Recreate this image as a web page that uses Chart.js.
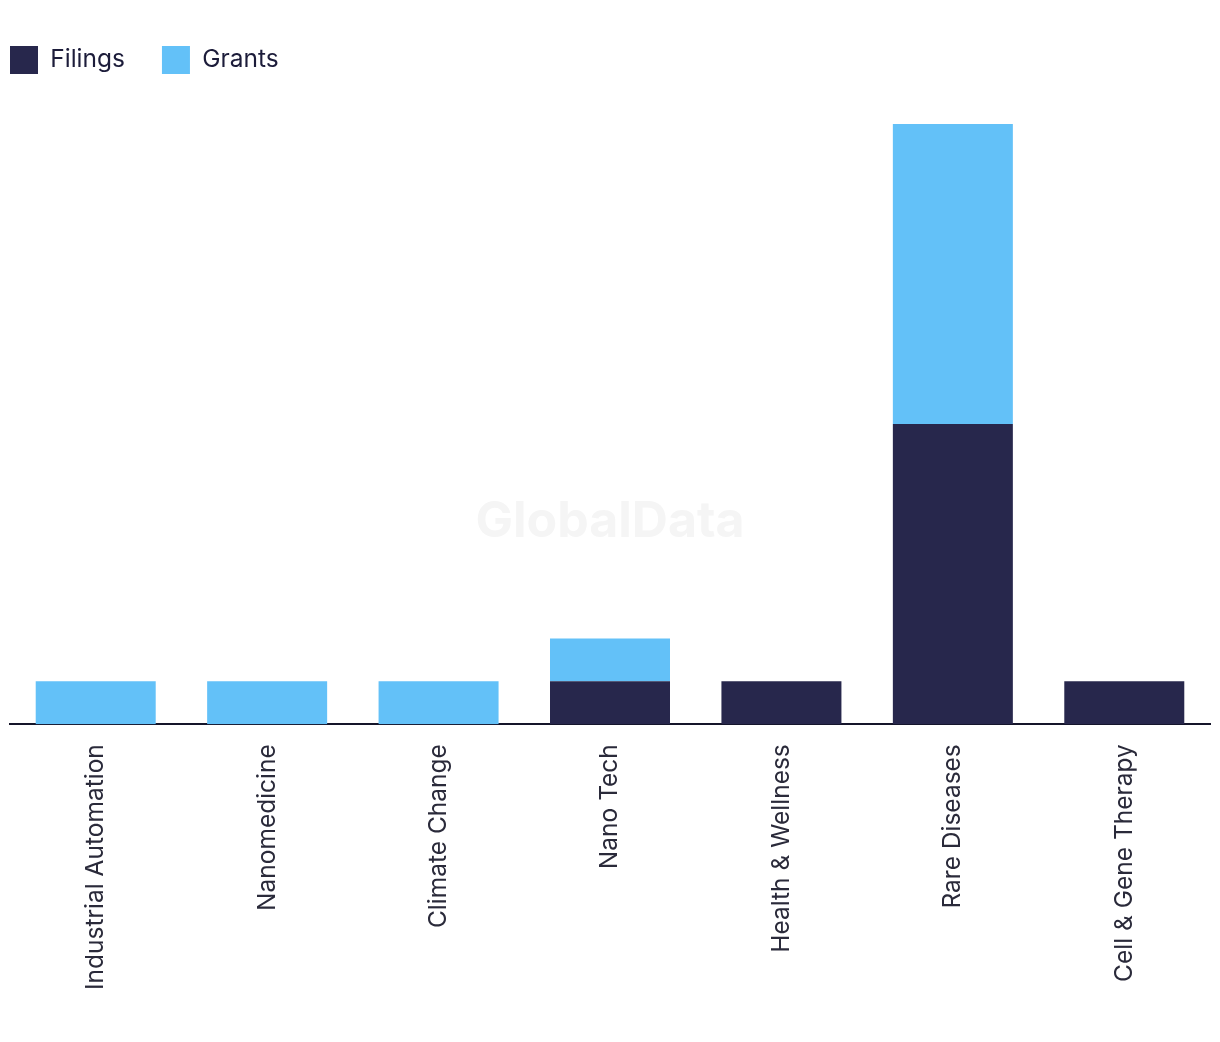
<!DOCTYPE html>
<html>
<head>
<meta charset="utf-8">
<script src="https://cdn.jsdelivr.net/npm/chart.js@4"></script>
<style>
  html, body { margin:0; padding:0; background:#fff; }
  #wrap { width:1220px; height:1042px; position:relative; }
</style>
</head>
<body>
<div id="wrap"><canvas id="chart"></canvas></div>
<script>
// ─── data ───────────────────────────────────────────────────────────────────
const categories = ['Industrial Automation','Nanomedicine','Climate Change','Nano Tech','Health & Wellness','Rare Diseases','Cell & Gene Therapy'];
const filings = [0, 0, 0, 1, 1, 7, 1];
const grants  = [1, 1, 1, 1, 0, 7, 0];

const NAVY = '#27274c';
const SKY  = '#63c1f8';
const FONT = 'Inter, "Liberation Sans", sans-serif';
const LEG_PAD = 37;

// faint brand mark behind the bars
const watermark = {
  id: 'watermark',
  beforeDatasetsDraw(chart) {
    const { ctx } = chart;
    ctx.save();
    ctx.font = 'bold 50px ' + FONT;
    ctx.fillStyle = '#f5f5f5';
    ctx.textAlign = 'center';
    ctx.textBaseline = 'middle';
    ctx.fillText('GlobalData', 610, 522);
    ctx.restore();
  }
};

// pull the legend flush with the left edge (its padding also spaces the items)
const legendShift = {
  id: 'legendShift',
  afterLayout(chart) { chart.legend.left -= LEG_PAD; }
};

new Chart(document.getElementById('chart'), {
  type: 'bar',
  data: {
    labels: categories,
    datasets: [
      { label:'Filings', data:filings, backgroundColor:NAVY },
      { label:'Grants',  data:grants,  backgroundColor:SKY }
    ]
  },
  options: {
    responsive:true, maintainAspectRatio:false, animation:false,
    layout:{ padding:{ left:10, right:10, top:9, bottom:32 } },
    datasets:{ bar:{ categoryPercentage:0.7, barPercentage:1.0 } },
    plugins:{
      legend:{
        position:'top', align:'start',
        labels:{ color:'#1c1c3a', font:{ family:FONT, size:24.5 }, boxWidth:28, boxHeight:28, padding:LEG_PAD }
      },
      tooltip:{ enabled:false }
    },
    scales:{
      x:{
        stacked:true,
        grid:{ display:false, drawTicks:false },
        border:{ display:true, color:'#15152a', width:2 },
        ticks:{ color:'#2a2a3a', font:{ family:FONT, size:24.5 }, minRotation:90, maxRotation:90, padding:20, autoSkip:false }
      },
      y:{ stacked:true, display:false, min:0, max:14.93 }
    }
  },
  plugins:[watermark, legendShift]
});
</script>
</body>
</html>
